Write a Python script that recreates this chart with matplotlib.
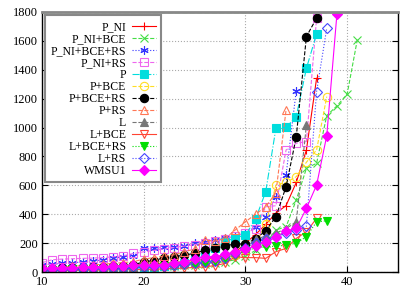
import numpy as np
import matplotlib
matplotlib.use("Agg")
import matplotlib.pyplot as plt

plt.rcParams["font.family"] = "Liberation Serif"
plt.rcParams["font.size"] = 9

labels = ["P_NI", "P_NI+BCE", "P_NI+BCE+RS", "P_NI+RS", "P", "P+BCE",
          "P+BCE+RS", "P+RS", "L", "L+BCE", "L+BCE+RS", "L+RS", "WMSU1"]

# values from x = 10 upward, one per integer step
p_ni = [20, 22, 25, 28, 30, 33, 36, 40, 44, 48,
        52, 56, 60, 66, 72, 80, 90, 100, 115, 135,
        200, 260, 330, 408, 460, 620, 845, 1341]
p_ni_bce = [15, 17, 19, 21, 23, 25, 27, 29, 31, 33,
            35, 38, 41, 44, 48, 52, 58, 64, 72, 85,
            110, 150, 200, 291, 314, 499, 718, 753, 1083, 1150, 1230, 1607]
p_ni_bce_rs = [50, 55, 60, 65, 70, 75, 85, 95, 105, 110,
               164, 164, 171, 175, 182, 199, 210, 220, 235, 250,
               270, 314, 383, 520, 672, 1256]
p_ni_rs = [65, 85, 90, 92, 95, 97, 100, 106, 113, 129,
           140, 150, 160, 170, 180, 190, 200, 215, 230, 250,
           270, 300, 452, 459, 845, 891, 903, 1757]
p = [10, 12, 14, 16, 18, 20, 22, 24, 26, 28,
     30, 33, 40, 50, 60, 90, 130, 164, 210, 238,
     256, 367, 556, 995, 1002, 1076, 1410, 1648]
p_bce = [18, 20, 22, 24, 26, 28, 30, 33, 36, 40,
         45, 50, 55, 60, 66, 72, 80, 90, 100, 120,
         150, 200, 330, 602, 620, 660, 760, 845, 1214]
p_bce_rs = [20, 22, 25, 28, 30, 33, 36, 40, 44, 50,
            71, 80, 99, 106, 118, 129, 152, 164, 182, 194,
            194, 230, 286, 383, 591, 935, 1630, 1757]
p_rs = [30, 33, 36, 40, 45, 50, 55, 60, 66, 72,
        90, 100, 110, 120, 140, 160, 222, 214, 233, 291,
        348, 400, 452, 549, 1122]
l = [15, 17, 19, 21, 23, 25, 27, 29, 31, 33,
     40, 45, 50, 55, 60, 70, 80, 100, 120, 140,
     170, 226, 250, 270, 300, 348, 1018]
l_bce = [8, 9, 10, 11, 12, 13, 14, 15, 16, 17,
         18, 20, 22, 25, 28, 32, 36, 45, 60, 106,
         100, 100, 95, 141, 164, 233, 279, 372]
l_bce_rs = [12, 14, 16, 18, 20, 22, 24, 26, 28, 30,
            33, 36, 40, 44, 48, 55, 65, 80, 100, 120,
            150, 165, 175, 180, 185, 200, 245, 348, 355]
l_rs = [15, 17, 19, 21, 23, 25, 27, 29, 31, 33,
        36, 40, 45, 50, 55, 60, 70, 80, 100, 130,
        170, 200, 230, 245, 270, 290, 318, 1249, 1688]
wmsu1 = [25, 27, 29, 31, 33, 35, 38, 41, 44, 48,
         48, 48, 50, 60, 71, 90, 106, 106, 122, 140,
         160, 180, 210, 240, 286, 302, 441, 602, 944, 1787]

series = [p_ni, p_ni_bce, p_ni_bce_rs, p_ni_rs, p, p_bce, p_bce_rs,
          p_rs, l, l_bce, l_bce_rs, l_rs, wmsu1]

asterisk = (6, 2, 0)
styles = [
    ("red", "+", "-", True),
    ("#44dd44", "x", "--", True),
    ("#3333ff", asterisk, ":", True),
    ("#ee66ee", "s", "--", False),
    ("#00dddd", "s", "-.", True),
    ("#ffdd22", "o", "--", False),
    ("black", "o", "--", True),
    ("#ff7755", "^", "--", False),
    ("#777777", "^", "--", True),
    ("#ff4433", "v", "-", False),
    ("#00dd00", "v", ":", True),
    ("#4444ff", "D", ":", False),
    ("#ff00ff", "D", "-", True),
]

fig = plt.figure(figsize=(4.15, 2.91), dpi=100)
ax = fig.add_axes([0.101, 0.065, 0.858, 0.894])

for lab, ys, (c, m, ls, filled) in zip(labels, series, styles):
    xs = np.arange(10, 10 + len(ys))
    ms = 5 if m == "D" else 6
    ax.plot(xs, ys, color=c, linestyle=ls, linewidth=0.8, marker=m,
            markersize=ms, markeredgewidth=0.8,
            markerfacecolor=c if filled else "none", markeredgecolor=c,
            label=lab)

ax.axhline(1800, color="#44dd44", linestyle="--", linewidth=1.0)

ax.set_xlim(10, 45)
ax.set_ylim(0, 1800)
ax.set_xticks([10, 20, 30, 40])
ax.set_yticks(range(0, 1801, 200))
ax.grid(True, color="#aaaaaa", linestyle=":", linewidth=0.8)
ax.tick_params(direction="in", length=4, width=0.8, right=True, pad=3)
for side in ["left", "bottom", "right"]:
    ax.spines[side].set_linewidth(1.0)
ax.spines["top"].set_color("#888888")
ax.spines["top"].set_linewidth(2.0)

leg = ax.legend(loc="upper left", markerfirst=False, fontsize=8.5,
                handlelength=2.0, handletextpad=0.5, labelspacing=0.0,
                borderpad=0.45, borderaxespad=0.3, fancybox=False,
                framealpha=1.0, edgecolor="#888888")
leg.get_frame().set_linewidth(1.5)

fig.savefig("out.png", dpi=100)
